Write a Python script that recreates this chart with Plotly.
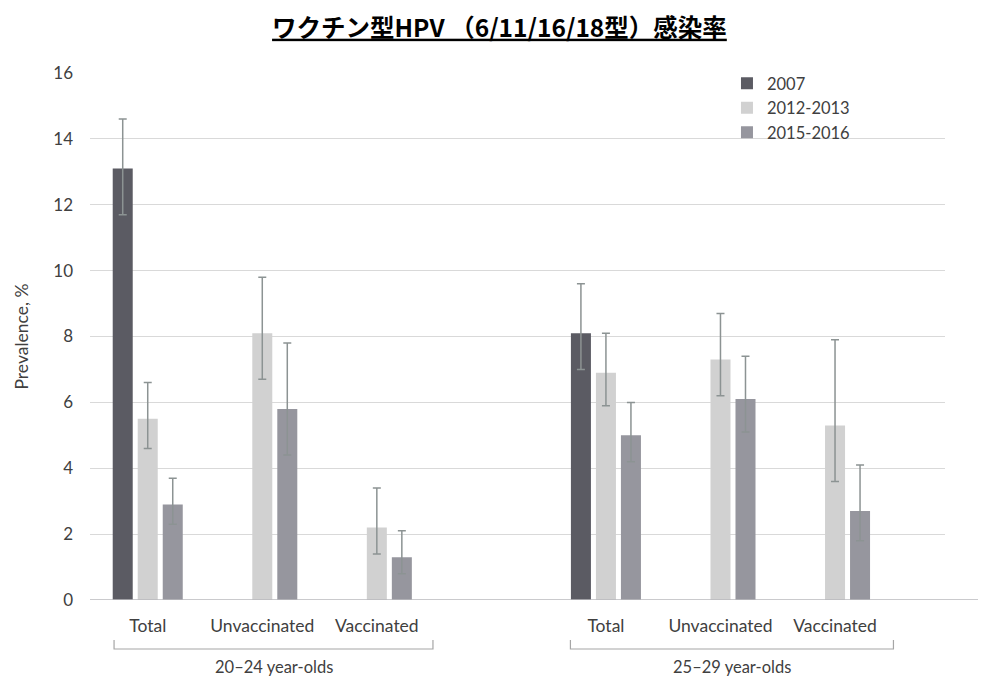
import plotly.graph_objects as go

# ---- data ----
categories = ["Total", "Unvaccinated", "Vaccinated", "Total", "Unvaccinated", "Vaccinated"]
cat_pos = [0, 1, 2, 4, 5, 6]
groups = ["20–24 year-olds", "25–29 year-olds"]
group_pos = [1.1, 5.1]

series_names = ["2007", "2012-2013", "2015-2016"]

v2007 = [13.1, None, None, 8.1, None, None]
lo2007 = [11.7, None, None, 7.0, None, None]
hi2007 = [14.6, None, None, 9.6, None, None]

v2012 = [5.5, 8.1, 2.2, 6.9, 7.3, 5.3]
lo2012 = [4.6, 6.7, 1.4, 5.9, 6.2, 3.6]
hi2012 = [6.6, 9.8, 3.4, 8.1, 8.7, 7.9]

v2015 = [2.9, 5.8, 1.3, 5.0, 6.1, 2.7]
lo2015 = [2.3, 4.4, 0.8, 4.2, 5.1, 1.8]
hi2015 = [3.7, 7.8, 2.1, 6.0, 7.4, 4.1]

y_ticks = [0, 2, 4, 6, 8, 10, 12, 14, 16]

colors = ["#5b5b63", "#d1d1d1", "#96969e"]
err_color = "#8c9393"

def plus(v, hi):
    return [None if a is None else h - a for a, h in zip(v, hi)]

def minus(v, lo):
    return [None if a is None else a - l for a, l in zip(v, lo)]

fig = go.Figure()
for name, vals, lo, hi, col in zip(series_names, [v2007, v2012, v2015],
                                  [lo2007, lo2012, lo2015], [hi2007, hi2012, hi2015], colors):
    fig.add_trace(go.Bar(
        x=cat_pos, y=vals, name=name,
        marker=dict(color=col, line=dict(width=0)),
        error_y=dict(type="data", symmetric=False, array=plus(vals, hi),
                     arrayminus=minus(vals, lo), color=err_color,
                     thickness=1.5, width=4),
    ))

FONT = "Lato, 'Noto Sans', sans-serif"
TXT = "#404040"

fig.update_layout(
    width=978, height=671,
    margin=dict(l=82, r=41, t=65, b=79),
    paper_bgcolor="white", plot_bgcolor="white",
    barmode="group", bargap=0.345, bargroupgap=0.2,
    font=dict(family=FONT, color=TXT),
    title=dict(
        text="<b><u>ワクチン型HPV （6/11/16/18型）感染率</u></b>",
        x=0.5025, xanchor="center", y=0.970, yanchor="middle",
        xref="container", yref="container",
        font=dict(family="'Noto Sans CJK JP', sans-serif", size=24.5, color="#000000"),
    ),
    legend=dict(
        x=0.745, y=1.013, xanchor="left", yanchor="top",
        bgcolor="rgba(0,0,0,0)", font=dict(size=16.5, color=TXT),
        tracegroupgap=0, itemwidth=30,
    ),
    xaxis=dict(
        range=[-0.504, 6.96], tickmode="array", tickvals=cat_pos, ticktext=categories,
        showgrid=False, zeroline=False, showline=False, ticks="",
        tickfont=dict(size=17.5, color=TXT), ticklabelstandoff=13,
    ),
    yaxis=dict(
        range=[0, 16], tickmode="array", tickvals=y_ticks,
        showgrid=True, gridcolor="#d9d9d9", gridwidth=1,
        zeroline=False, showline=False, ticks="",
        tickfont=dict(size=17, color=TXT), ticklabelstandoff=16,
        title=dict(text="Prevalence, %", font=dict(size=17.5, color=TXT), standoff=20),
    ),
)

# baseline
fig.add_shape(type="line", xref="paper", yref="y", x0=0, x1=1.048, y0=0, y1=0,
              line=dict(color="#b8b8bc", width=1.5), layer="above")

# group brackets
brackets = [(-0.294, 2.49), (3.69, 6.51)]
for x0, x1 in brackets:
    fig.add_shape(type="path", xref="x", yref="paper",
                  path=f"M {x0} -0.076 L {x0} -0.093 L {x1} -0.093 L {x1} -0.076",
                  line=dict(color="#a6a6a6", width=1.2))

for g, gx in zip(groups, group_pos):
    fig.add_annotation(x=gx, y=-0.128, xref="x", yref="paper", text=g, showarrow=False,
                       font=dict(size=16.5, color=TXT), xanchor="center", yanchor="middle")

fig.write_html("out.html")
